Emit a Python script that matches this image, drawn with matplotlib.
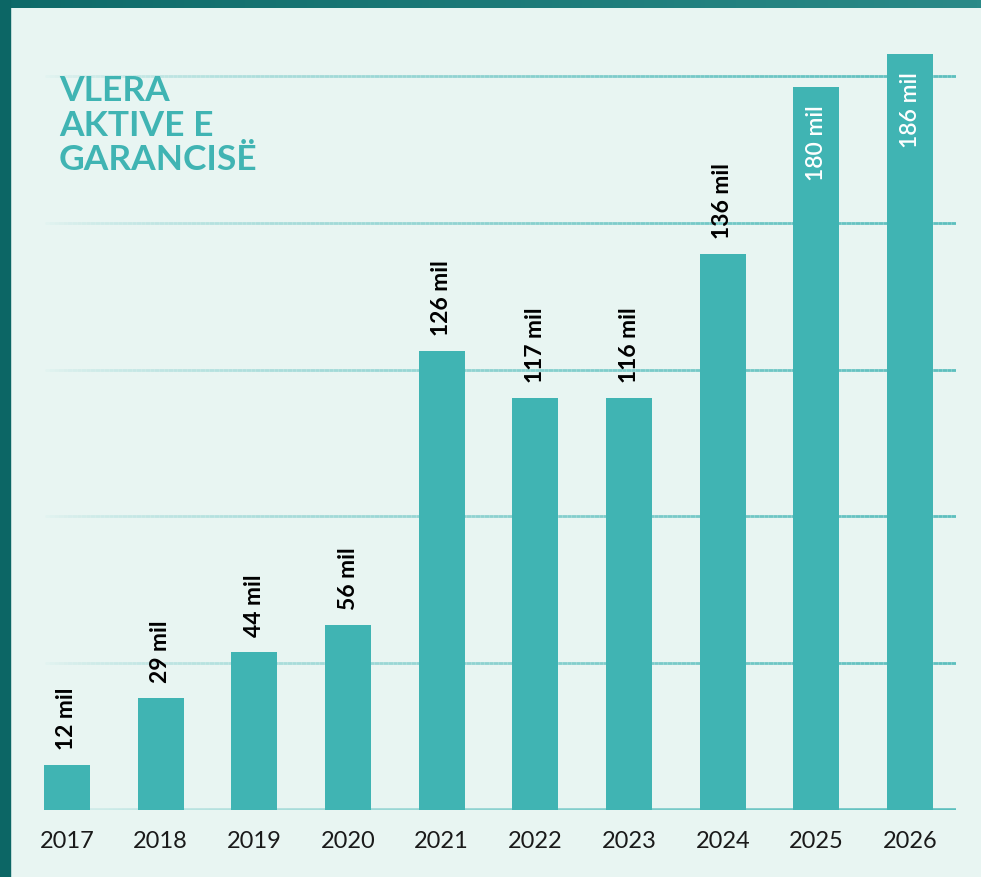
import numpy as np
import matplotlib

matplotlib.use("Agg")
import matplotlib.pyplot as plt
from matplotlib.collections import LineCollection
from matplotlib.colors import to_rgb

# te dhenat
years = ["2017", "2018", "2019", "2020", "2021", "2022", "2023", "2024", "2025", "2026"]
heights = [12.3, 30.5, 43.0, 50.4, 125.0, 112.3, 112.3, 151.5, 197.0, 206.0]
labels = ["12 mil", "29 mil", "44 mil", "56 mil", "126 mil", "117 mil",
          "116 mil", "136 mil", "180 mil", "186 mil"]
inside = [False] * 8 + [True, True]
grid_vals = [0, 40, 80, 120, 160, 200]
title = "VLERA\nAKTIVE E\nGARANCISË"

BG = "#e8f5f2"
BAR = "#40b4b3"
GRID = "#5cbfbe"
DARK = "#0c6665"

plt.rcParams["font.family"] = ["Lato", "DejaVu Sans"]

W, H = 981, 877
STEP = 93.67
fig = plt.figure(figsize=(W / 100, H / 100), dpi=100, facecolor=BG)

# axes: x px 40..956, y px 810 (0) .. 30
ax = fig.add_axes([40 / W, (H - 810) / H, 916 / W, 780 / H])
ax.set_facecolor("none")
x = np.arange(len(years))
ax.set_xlim((40 - 67) / STEP, (956 - 67) / STEP)
ax.set_ylim(0, (810 - 30) / 146.8 * 40)


def grad_line(y, x0, x1, lw):
    xs = np.linspace(x0, x1, 201)
    segs = [[(xs[i], y), (xs[i + 1], y)] for i in range(len(xs) - 1)]
    c0, c1 = np.array(to_rgb(BG)), np.array(to_rgb(GRID))
    t = np.linspace(0, 1, len(segs)) ** 0.6
    cols = [tuple(c0 + (c1 - c0) * tt) for tt in t]
    lc = LineCollection(segs, colors=cols, linewidths=lw, zorder=1,
                        capstyle="butt")
    ax.add_collection(lc)


xl = ax.get_xlim()
for g in grid_vals:
    grad_line(g, xl[0], xl[1], 2.6 if g == 0 else 2.0)

ax.bar(x, heights, width=46 / STEP, color=BAR, zorder=2)

for xi, h, lab, ins in zip(x, heights, labels, inside):
    if ins:
        ax.annotate(lab, (xi, h), xytext=(0, -13), textcoords="offset points",
                    rotation=90, ha="center", va="top", color="white",
                    fontsize=16.5, fontweight="semibold", zorder=3)
    else:
        ax.annotate(lab, (xi, h), xytext=(0, 11), textcoords="offset points",
                    rotation=90, ha="center", va="bottom", color="black",
                    fontsize=16.5, fontweight="bold", zorder=3)

ax.set_xticks(x)
ax.set_xticklabels(years, fontsize=17, color="#1a1a1a")
ax.tick_params(axis="x", length=0, pad=15)
ax.set_yticks([])
for s in ax.spines.values():
    s.set_visible(False)

fig.text(59 / W, 1 - 75 / H, title, ha="left", va="top", color=BAR,
         fontsize=25.5, fontweight="bold", linespacing=1.1, zorder=5)

# korniza
band = fig.add_axes([0, 1 - 8 / H, 1, 8 / H])
band.imshow(np.linspace(0, 1, 256)[None, :], aspect="auto",
            cmap=matplotlib.colors.LinearSegmentedColormap.from_list(
                "b", ["#0e6a69", "#2a8a88"]))
band.axis("off")
fig.patches.append(plt.Rectangle((0, 0), 10 / W, 1, transform=fig.transFigure,
                                 color=DARK, zorder=10))

fig.savefig("out.png", dpi=100, facecolor=BG)
